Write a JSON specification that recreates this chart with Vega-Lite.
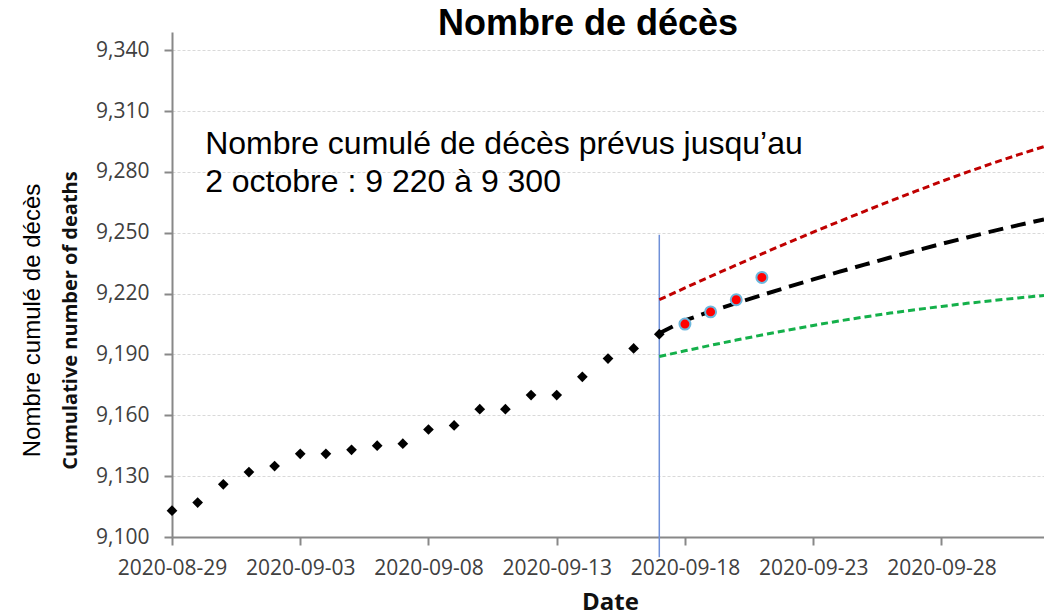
{
  "$schema": "https://vega.github.io/schema/vega-lite/v6.json",
  "width": 872,
  "height": 505,
  "autosize": {"type": "none"},
  "padding": {"left": 172, "top": 32, "right": 0, "bottom": 79},
  "background": "white",
  "title": {"text": "Nombre de décès", "font": "Liberation Sans", "fontSize": 36, "fontWeight": "bold", "color": "black", "anchor": "middle", "dx": -20, "offset": -11},
  "config": {
    "view": {"stroke": null},
    "font": "Liberation Sans",
    "axis": {"labelFont": "Open Sans", "labelFontSize": 21, "labelColor": "#404040", "domainColor": "#888888", "domainWidth": 2, "tickColor": "#888888", "tickWidth": 2, "titleColor": "black", "labelFlush": false, "labelOverlap": false}
  },
  "datasets": {
    "deaths": [
      {"date": "2020-08-29T00:00:00", "value": 9113, "series": "observed"},
      {"date": "2020-08-30T00:00:00", "value": 9117, "series": "observed"},
      {"date": "2020-08-31T00:00:00", "value": 9126, "series": "observed"},
      {"date": "2020-09-01T00:00:00", "value": 9132, "series": "observed"},
      {"date": "2020-09-02T00:00:00", "value": 9135, "series": "observed"},
      {"date": "2020-09-03T00:00:00", "value": 9141, "series": "observed"},
      {"date": "2020-09-04T00:00:00", "value": 9141, "series": "observed"},
      {"date": "2020-09-05T00:00:00", "value": 9143, "series": "observed"},
      {"date": "2020-09-06T00:00:00", "value": 9145, "series": "observed"},
      {"date": "2020-09-07T00:00:00", "value": 9146, "series": "observed"},
      {"date": "2020-09-08T00:00:00", "value": 9153, "series": "observed"},
      {"date": "2020-09-09T00:00:00", "value": 9155, "series": "observed"},
      {"date": "2020-09-10T00:00:00", "value": 9163, "series": "observed"},
      {"date": "2020-09-11T00:00:00", "value": 9163, "series": "observed"},
      {"date": "2020-09-12T00:00:00", "value": 9170, "series": "observed"},
      {"date": "2020-09-13T00:00:00", "value": 9170, "series": "observed"},
      {"date": "2020-09-14T00:00:00", "value": 9179, "series": "observed"},
      {"date": "2020-09-15T00:00:00", "value": 9188, "series": "observed"},
      {"date": "2020-09-16T00:00:00", "value": 9193, "series": "observed"},
      {"date": "2020-09-17T00:00:00", "value": 9200, "series": "observed"},
      {"date": "2020-09-18T00:00:00", "value": 9205, "series": "recent"},
      {"date": "2020-09-19T00:00:00", "value": 9211, "series": "recent"},
      {"date": "2020-09-20T00:00:00", "value": 9217, "series": "recent"},
      {"date": "2020-09-21T00:00:00", "value": 9228, "series": "recent"},
      {"date": "2020-09-17T00:00:00", "value": 9200.5, "series": "central"},
      {"date": "2020-09-18T00:00:00", "value": 9206.8, "series": "central"},
      {"date": "2020-09-19T00:00:00", "value": 9211.2, "series": "central"},
      {"date": "2020-09-20T00:00:00", "value": 9215.3, "series": "central"},
      {"date": "2020-09-21T00:00:00", "value": 9219.3, "series": "central"},
      {"date": "2020-09-22T00:00:00", "value": 9223.2, "series": "central"},
      {"date": "2020-09-23T00:00:00", "value": 9227.0, "series": "central"},
      {"date": "2020-09-24T00:00:00", "value": 9230.7, "series": "central"},
      {"date": "2020-09-25T00:00:00", "value": 9234.3, "series": "central"},
      {"date": "2020-09-26T00:00:00", "value": 9237.8, "series": "central"},
      {"date": "2020-09-27T00:00:00", "value": 9241.2, "series": "central"},
      {"date": "2020-09-28T00:00:00", "value": 9244.5, "series": "central"},
      {"date": "2020-09-29T00:00:00", "value": 9247.7, "series": "central"},
      {"date": "2020-09-30T00:00:00", "value": 9250.8, "series": "central"},
      {"date": "2020-10-01T00:00:00", "value": 9253.8, "series": "central"},
      {"date": "2020-10-02T00:00:00", "value": 9256.6, "series": "central"},
      {"date": "2020-09-17T00:00:00", "value": 9217.0, "series": "high"},
      {"date": "2020-09-18T00:00:00", "value": 9222.8, "series": "high"},
      {"date": "2020-09-19T00:00:00", "value": 9228.5, "series": "high"},
      {"date": "2020-09-20T00:00:00", "value": 9234.1, "series": "high"},
      {"date": "2020-09-21T00:00:00", "value": 9239.6, "series": "high"},
      {"date": "2020-09-22T00:00:00", "value": 9245.0, "series": "high"},
      {"date": "2020-09-23T00:00:00", "value": 9250.3, "series": "high"},
      {"date": "2020-09-24T00:00:00", "value": 9255.5, "series": "high"},
      {"date": "2020-09-25T00:00:00", "value": 9260.6, "series": "high"},
      {"date": "2020-09-26T00:00:00", "value": 9265.6, "series": "high"},
      {"date": "2020-09-27T00:00:00", "value": 9270.5, "series": "high"},
      {"date": "2020-09-28T00:00:00", "value": 9275.3, "series": "high"},
      {"date": "2020-09-29T00:00:00", "value": 9279.9, "series": "high"},
      {"date": "2020-09-30T00:00:00", "value": 9284.3, "series": "high"},
      {"date": "2020-10-01T00:00:00", "value": 9288.5, "series": "high"},
      {"date": "2020-10-02T00:00:00", "value": 9292.5, "series": "high"},
      {"date": "2020-09-17T00:00:00", "value": 9189.0, "series": "low"},
      {"date": "2020-09-18T00:00:00", "value": 9191.8, "series": "low"},
      {"date": "2020-09-19T00:00:00", "value": 9194.5, "series": "low"},
      {"date": "2020-09-20T00:00:00", "value": 9197.1, "series": "low"},
      {"date": "2020-09-21T00:00:00", "value": 9199.6, "series": "low"},
      {"date": "2020-09-22T00:00:00", "value": 9202.0, "series": "low"},
      {"date": "2020-09-23T00:00:00", "value": 9204.3, "series": "low"},
      {"date": "2020-09-24T00:00:00", "value": 9206.5, "series": "low"},
      {"date": "2020-09-25T00:00:00", "value": 9208.5, "series": "low"},
      {"date": "2020-09-26T00:00:00", "value": 9210.4, "series": "low"},
      {"date": "2020-09-27T00:00:00", "value": 9212.1, "series": "low"},
      {"date": "2020-09-28T00:00:00", "value": 9213.7, "series": "low"},
      {"date": "2020-09-29T00:00:00", "value": 9215.2, "series": "low"},
      {"date": "2020-09-30T00:00:00", "value": 9216.6, "series": "low"},
      {"date": "2020-10-01T00:00:00", "value": 9217.9, "series": "low"},
      {"date": "2020-10-02T00:00:00", "value": 9219.1, "series": "low"}
    ],
    "note": [
      {"label": "Nombre cumulé de décès prévus jusqu’au\n2 octobre : 9 220 à 9 300"}
    ]
  },
  "resolve": {"axis": {"y": "independent"}},
  "layer": [
    {
      "data": {"values": [{"event": "start"}]},
      "mark": {"type": "rule", "color": "#6f90d8", "strokeWidth": 1.5},
      "encoding": {
        "x": {"datum": {"year": 2020, "month": 9, "date": 17}, "type": "temporal", "scale": {"domain": [{"year": 2020, "month": 8, "date": 29}, {"year": 2020, "month": 10, "date": 2}]}},
        "y": {"datum": 9249, "type": "quantitative", "scale": {"domain": [9100, 9349], "nice": false, "zero": false}, "axis": null},
        "y2": {"datum": 9090}
      }
    },
    {
      "data": {"name": "deaths"},
      "transform": [{"filter": "datum.series === 'observed'"}],
      "mark": {"type": "point", "shape": "diamond", "filled": true, "color": "black", "size": 115, "opacity": 1},
      "encoding": {
        "x": {
          "field": "date", "type": "temporal",
          "scale": {"domain": [{"year": 2020, "month": 8, "date": 29}, {"year": 2020, "month": 10, "date": 2}]},
          "axis": {
            "values": [
              {"year": 2020, "month": 8, "date": 29},
              {"year": 2020, "month": 9, "date": 3},
              {"year": 2020, "month": 9, "date": 8},
              {"year": 2020, "month": 9, "date": 13},
              {"year": 2020, "month": 9, "date": 18},
              {"year": 2020, "month": 9, "date": 23},
              {"year": 2020, "month": 9, "date": 28}
            ],
            "format": "%Y-%m-%d",
            "grid": false,
            "tickSize": 8,
            "labelPadding": 12,
            "labelAlign": "center",
            "title": "Date",
            "titleFont": "Open Sans",
            "titleFontWeight": "bold",
            "titleFontSize": 24,
            "titleColor": "#111111",
            "titleX": 438,
            "titleY": 72,
            "titleBaseline": "alphabetic",
            "titleAlign": "center"
          }
        },
        "y": {
          "field": "value", "type": "quantitative",
          "scale": {"domain": [9100, 9349], "nice": false, "zero": false},
          "axis": {
            "values": [9100, 9130, 9160, 9190, 9220, 9250, 9280, 9310, 9340],
            "format": ",d",
            "tickSize": 8,
            "labelPadding": 15,
            "grid": true,
            "gridColor": "#d9d9d9",
            "gridDash": [3, 2],
            "gridWidth": 1,
            "title": "Cumulative number of deaths",
            "titleFont": "Open Sans",
            "titleFontWeight": "bold",
            "titleFontSize": 20,
            "titleColor": "#111111",
            "titleAngle": 270,
            "titleX": -102,
            "titleY": 288,
            "titleBaseline": "middle",
            "titleAlign": "center"
          }
        }
      }
    },
    {
      "data": {"name": "deaths"},
      "transform": [{"filter": "datum.series === 'high'"}],
      "mark": {"type": "line", "color": "#c00000", "strokeWidth": 3, "strokeDash": [7, 4]},
      "encoding": {
        "x": {"field": "date", "type": "temporal", "scale": {"domain": [{"year": 2020, "month": 8, "date": 29}, {"year": 2020, "month": 10, "date": 2}]}},
        "y": {"field": "value", "type": "quantitative", "scale": {"domain": [9100, 9349], "nice": false, "zero": false}, "axis": null}
      }
    },
    {
      "data": {"name": "deaths"},
      "transform": [{"filter": "datum.series === 'low'"}],
      "mark": {"type": "line", "color": "#14b04a", "strokeWidth": 3, "strokeDash": [7, 4]},
      "encoding": {
        "x": {"field": "date", "type": "temporal", "scale": {"domain": [{"year": 2020, "month": 8, "date": 29}, {"year": 2020, "month": 10, "date": 2}]}},
        "y": {"field": "value", "type": "quantitative", "scale": {"domain": [9100, 9349], "nice": false, "zero": false}, "axis": null}
      }
    },
    {
      "data": {"name": "deaths"},
      "transform": [{"filter": "datum.series === 'central'"}],
      "mark": {"type": "line", "color": "black", "strokeWidth": 4, "strokeDash": [15, 8]},
      "encoding": {
        "x": {"field": "date", "type": "temporal", "scale": {"domain": [{"year": 2020, "month": 8, "date": 29}, {"year": 2020, "month": 10, "date": 2}]}},
        "y": {"field": "value", "type": "quantitative", "scale": {"domain": [9100, 9349], "nice": false, "zero": false}, "axis": null}
      }
    },
    {
      "data": {"name": "deaths"},
      "transform": [{"filter": "datum.series === 'recent'"}],
      "mark": {"type": "point", "shape": "circle", "filled": true, "fill": "#ff0000", "stroke": "#6cb8de", "strokeWidth": 2, "size": 120, "opacity": 1},
      "encoding": {
        "x": {"field": "date", "type": "temporal", "scale": {"domain": [{"year": 2020, "month": 8, "date": 29}, {"year": 2020, "month": 10, "date": 2}]}},
        "y": {"field": "value", "type": "quantitative", "scale": {"domain": [9100, 9349], "nice": false, "zero": false}, "axis": null}
      }
    },
    {
      "data": {"name": "note"},
      "mark": {"type": "text", "font": "Liberation Sans", "fontSize": 32, "color": "black", "align": "left", "baseline": "alphabetic", "lineBreak": "\n", "lineHeight": 38},
      "encoding": {
        "text": {"field": "label"},
        "x": {"datum": {"year": 2020, "month": 8, "date": 30, "hours": 7}, "type": "temporal", "scale": {"domain": [{"year": 2020, "month": 8, "date": 29}, {"year": 2020, "month": 10, "date": 2}]}},
        "y": {
          "datum": 9288.8, "type": "quantitative",
          "scale": {"domain": [9100, 9349], "nice": false, "zero": false},
          "axis": {
            "orient": "left",
            "labels": false,
            "ticks": false,
            "domain": false,
            "grid": false,
            "title": "Nombre cumulé de décès",
            "titleFont": "Liberation Sans",
            "titleFontWeight": "normal",
            "titleFontSize": 24,
            "titleColor": "black",
            "titleAngle": 270,
            "titleX": -140,
            "titleY": 288,
            "titleBaseline": "middle",
            "titleAlign": "center"
          }
        }
      }
    }
  ]
}
